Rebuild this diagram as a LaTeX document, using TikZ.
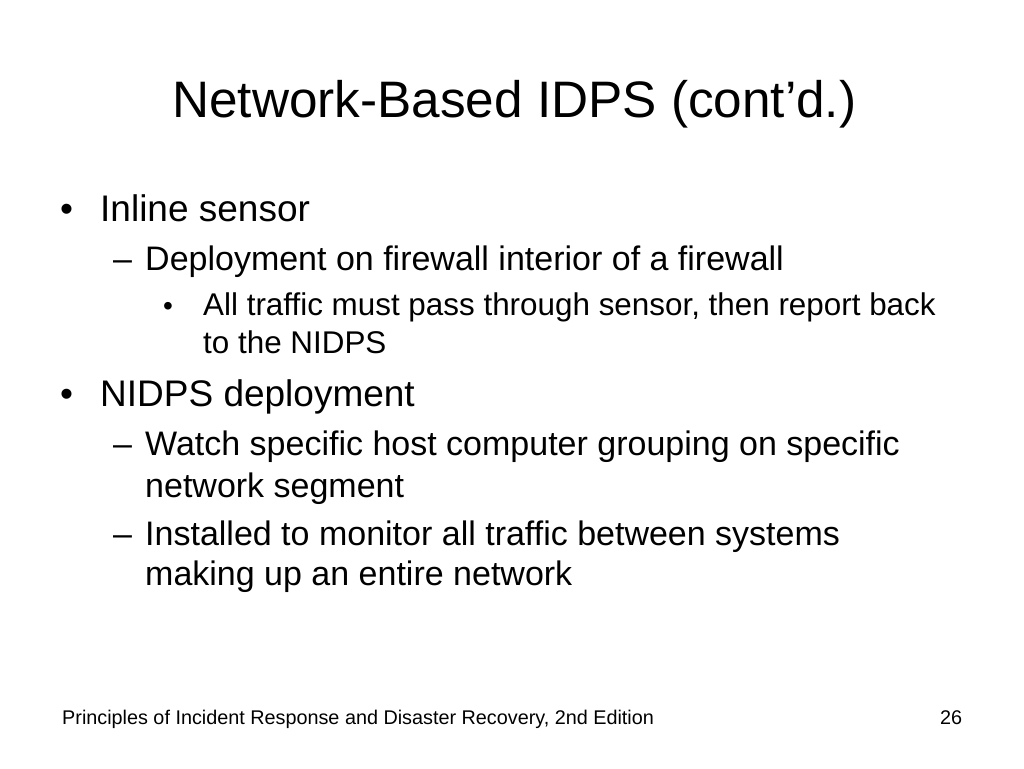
\documentclass[tikz,border=0pt]{standalone}
\usepackage{fontspec}
\setmainfont{Liberation Sans}
\begin{document}
\begin{tikzpicture}[x=1pt,y=-1pt,
  t/.style={anchor=base west,inner sep=0pt},
  la/.style={t,font=\fontsize{37}{44}\selectfont},
  lb/.style={t,font=\fontsize{34}{40}\selectfont},
  lc/.style={t,font=\fontsize{31.4}{36}\selectfont}]
\useasboundingbox[fill=white] (0,0) rectangle (1024,768);
\node[t,font=\fontsize{51.3}{60}\selectfont] (title) at (172,117) {Network-Based IDPS (cont’d.)};
\node[la] (b1) at (60,221) {•};
\node[la] (a1) at (100,221) {Inline sensor};
\node[lb] (d1) at (113,270) {–};
\node[lb] (a2) at (145,270) {Deployment on firewall interior of a firewall};
\node[lc,font=\fontsize{28}{34}\selectfont] (b2) at (163,315) {•};
\node[lc] (a3) at (203,315) {All traffic must pass through sensor, then report back};
\node[lc] (a4) at (203,353) {to the NIDPS};
\node[la] (b3) at (60,406) {•};
\node[la] (a5) at (100,406) {NIDPS deployment};
\node[lb] (d2) at (113,455) {–};
\node[lb] (a6) at (145,455) {Watch specific host computer grouping on specific};
\node[lb] (a7) at (145,497) {network segment};
\node[lb] (d3) at (113,545) {–};
\node[lb] (a8) at (145,545) {Installed to monitor all traffic between systems};
\node[lb] (a9) at (145,585) {making up an entire network};
\node[t,font=\fontsize{19.8}{24}\selectfont] (f1) at (62,724) {Principles of Incident Response and Disaster Recovery, 2nd Edition};
\node[t,font=\fontsize{19.8}{24}\selectfont] (f2) at (940,724) {26};
\end{tikzpicture}
\end{document}
